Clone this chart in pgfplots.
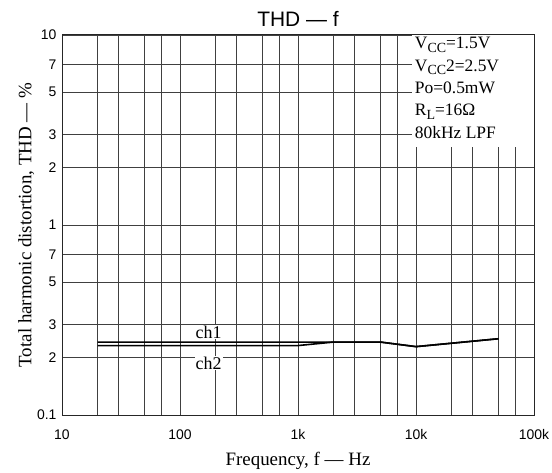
\documentclass[border=0pt]{standalone}
\usepackage{fontspec}
\setmainfont{Liberation Serif}
\newfontfamily\arial{Liberation Sans}
\usepackage{pgfplots}
\pgfplotsset{compat=1.18}

% THD vs frequency, two channels
\pgfplotstableread{
f     thd
20    0.242
1000  0.242
2000  0.242
5000  0.242
10000 0.229
50000 0.252
}\chone
\pgfplotstableread{
f     thd
20    0.232
1000  0.232
2000  0.242
5000  0.242
10000 0.229
50000 0.252
}\chtwo

\newcommand{\sub}[1]{\raisebox{-3.5bp}{\fontsize{14}{14}\selectfont #1}}

\begin{document}
\begin{tikzpicture}
\begin{axis}[
  name=ax,
  xmode=log, ymode=log,
  scale only axis, width=472bp, height=380bp,
  xmin=10, xmax=100000, ymin=0.1, ymax=10,
  xtick={10,100,1000,10000,100000},
  xticklabels={10,100,1k,10k,100k},
  minor xtick={20,30,50,70,200,300,500,700,2000,3000,5000,7000,20000,30000,50000,70000},
  ytick={0.1,0.2,0.3,0.5,0.7,1,2,3,5,7,10},
  yticklabels={0.1,2,3,5,7,1,2,3,5,7,10},
  xmajorgrids, xminorgrids, ymajorgrids, yminorgrids=false,
  major grid style={black!75, line width=0.9bp},
  minor grid style={black!75, line width=0.9bp},
  major tick length=0pt, minor tick length=0pt,
  axis line style={black!85, line width=1bp},
  tick label style={font=\arial\fontsize{14}{14}\selectfont},
  xticklabel style={yshift=-11bp},
  yticklabel style={xshift=-2bp},
  xlabel={Frequency, f — Hz},
  ylabel={Total harmonic distortion, THD — \%},
  label style={font=\fontsize{19}{19}\selectfont},
  xlabel style={at={(rel axis cs:0.5,0)}, anchor=base, yshift=-50bp},
  ylabel style={yshift=-4bp},
  title={THD — f},
  title style={font=\arial\fontsize{21}{21}\selectfont, yshift=-1bp},
  clip=false,
]
\addplot[black, line width=1.6bp] table[x=f, y=thd] {\chone};
\addplot[black, line width=1.6bp] table[x=f, y=thd] {\chtwo};

\node[fill=white, inner sep=1bp, font=\fontsize{18}{18}\selectfont] at (axis cs:175,0.273) {ch1};
\node[fill=white, inner sep=1bp, font=\fontsize{18}{18}\selectfont] at (axis cs:175,0.188) {ch2};

% conditions box
\node[fill=white, anchor=north east, inner sep=0pt, minimum width=122bp, minimum height=112bp] at (rel axis cs:1,1) {};
\node[anchor=north west, inner sep=0pt, align=left, font=\fontsize{17.5}{22.5}\selectfont] at ([xshift=3bp,yshift=-2bp]rel axis cs:0.741,1) {%
V\sub{CC}=1.5V\\
V\sub{CC}2=2.5V\\
Po=0.5mW\\
R\sub{L}=16Ω\\
80kHz LPF};
\draw[black!85, line width=1bp] (rel axis cs:0.7,1) -- (rel axis cs:1,1) -- (rel axis cs:1,0.6);
\end{axis}
\pgfresetboundingbox
\path (ax.south west) ++(-62bp,-58bp) rectangle ++(552bp,473bp);
\end{tikzpicture}
\end{document}
